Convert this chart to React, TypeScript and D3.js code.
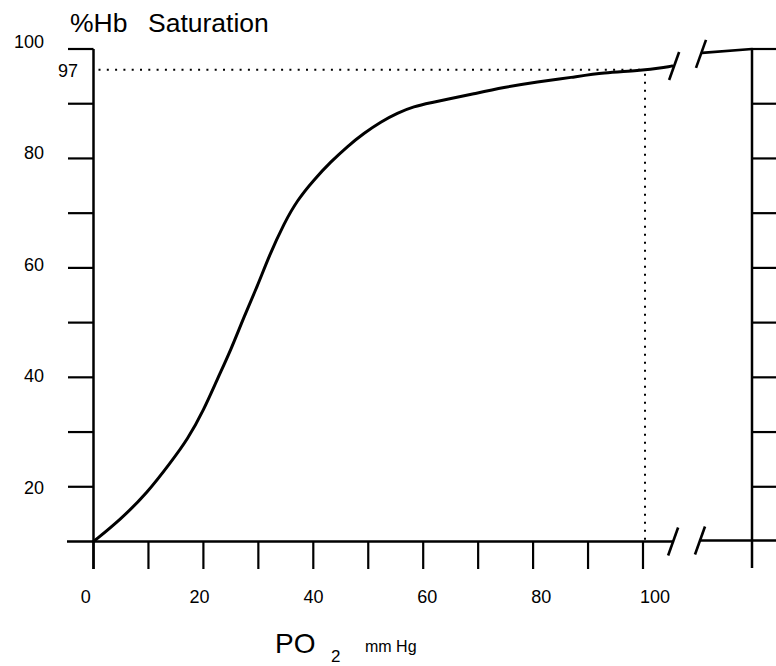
import React from "react";
import * as d3 from "d3";

// Oxygen–haemoglobin dissociation curve
const PO2 = [0, 4.9, 9.8, 14.0, 17.1, 20.1, 22.5, 25.0, 27.4, 29.8, 32.0, 34.7, 37.1, 40.1, 43.2, 46.2, 49.2, 52.3, 55.3, 58.3, 61.4, 64.4, 68.7, 74.7, 80.8, 86.9, 93.0, 99.0, 104.5, 105.3];
const SAT = [10, 14.0, 18.9, 24.4, 28.6, 34.1, 39.6, 45.0, 51.1, 56.6, 62.3, 68.2, 72.4, 76.1, 79.4, 82.2, 84.6, 86.7, 88.3, 89.5, 90.2, 90.8, 91.7, 93.0, 94.0, 94.8, 95.7, 96.0, 96.7, 96.9];

// segment beyond the axis break
const AFTER_PO2 = [110, 150];
const AFTER_SAT = [99.3, 100];

const X_TICKS = [0, 10, 20, 30, 40, 50, 60, 70, 80, 90, 100];
const X_LABELS = [0, 20, 40, 60, 80, 100];
const Y_TICKS = [20, 30, 40, 50, 60, 70, 80, 90, 100];
const Y_LABELS = [20, 40, 60, 80, 100];

const REF_PO2 = 100;
const REF_SAT = 96.2;
const REF_LABEL = "97";
const BREAK_PO2 = 105.3;

const TITLE_A = "%Hb";
const TITLE_B = "Saturation";
const XLABEL = "PO";
const XSUB = "2";
const XUNIT = "mm Hg";

const FONT = "'Liberation Sans', Arial, Helvetica, sans-serif";

export default function App() {
  const W = 776;
  const H = 666;
  const x = d3.scaleLinear().domain([0, 100]).range([93.5, 643]);
  const y = d3.scaleLinear().domain([10, 100]).range([541.5, 49]);
  const x2 = d3.scaleLinear().domain([110, 150]).range([702, 752]);
  const xLab = d3.scaleLinear().domain([0, 100]).range([85.8, 655]);
  const yLab = d3.scaleLinear().domain([20, 100]).range([493.5, 47.5]);

  const pts: [number, number][] = PO2.map((p, i) => [p, SAT[i]]);
  const line = d3
    .line<[number, number]>()
    .x((d) => x(d[0]))
    .y((d) => y(d[1]))
    .curve(d3.curveBasis);
  const after: [number, number][] = AFTER_PO2.map((p, i) => [p, AFTER_SAT[i]]);
  const line2 = d3
    .line<[number, number]>()
    .x((d) => x2(d[0]))
    .y((d) => y(d[1]));

  const x0 = x(0);
  const yBase = y(10);
  const tickBottom = yBase + 27.5;
  const rightAxisX = x2(150);
  const bx1 = x(BREAK_PO2) + 1;
  const bx2 = x2(110) - 2;
  const slash = (cx: number, cy: number) =>
    `M${cx - 5},${cy + 14}L${cx + 5},${cy - 14}`;

  return (
    <svg
      width={W}
      height={H}
      viewBox={`0 0 ${W} ${H}`}
      style={{ position: "absolute", left: 0, top: 0, display: "block", background: "#fff" }}
    >
      <rect x={0} y={0} width={W} height={H} fill="#fff" />
      {/* title */}
      <text x={70} y={32} fontFamily={FONT} fontSize={26.5} fill="#000">{TITLE_A}</text>
      <text x={148} y={32} fontFamily={FONT} fontSize={26.5} fill="#000">{TITLE_B}</text>

      {/* dotted reference lines */}
      <line
        x1={x0 + 5}
        x2={x(REF_PO2) + 2}
        y1={y(REF_SAT)}
        y2={y(REF_SAT)}
        stroke="#000"
        strokeWidth={2}
        strokeDasharray="2 6.3"
      />
      <line
        x1={x(REF_PO2) + 2}
        x2={x(REF_PO2) + 2}
        y1={y(REF_SAT) + 4}
        y2={yBase}
        stroke="#000"
        strokeWidth={2}
        strokeDasharray="2 6"
      />

      {/* y axis */}
      <line x1={x0} x2={x0} y1={y(100)} y2={tickBottom} stroke="#000" strokeWidth={2.5} />
      {Y_TICKS.map((v) => (
        <line key={"yt" + v} x1={68} x2={x0} y1={y(v)} y2={y(v)} stroke="#000" strokeWidth={2.2} />
      ))}
      {Y_LABELS.map((v) => (
        <text key={"yl" + v} x={44} y={yLab(v)} textAnchor="end" fontFamily={FONT} fontSize={18} fill="#000">
          {v}
        </text>
      ))}
      <text x={78} y={y(REF_SAT) + 7} textAnchor="end" fontFamily={FONT} fontSize={18} fill="#000">
        {REF_LABEL}
      </text>

      {/* x axis */}
      <line x1={67} x2={bx1} y1={yBase} y2={yBase} stroke="#000" strokeWidth={2.5} />
      <line x1={bx2} x2={W} y1={yBase - 1} y2={yBase - 1} stroke="#000" strokeWidth={2.5} />
      {X_TICKS.map((v) => (
        <line key={"xt" + v} x1={x(v)} x2={x(v)} y1={yBase} y2={tickBottom} stroke="#000" strokeWidth={2.2} />
      ))}
      {X_LABELS.map((v) => (
        <text key={"xl" + v} x={xLab(v)} y={603} textAnchor="middle" fontFamily={FONT} fontSize={18} fill="#000">
          {v}
        </text>
      ))}

      {/* right axis after the break */}
      <line x1={rightAxisX} x2={rightAxisX} y1={y(100) - 1} y2={tickBottom - 1} stroke="#000" strokeWidth={2.5} />
      {Y_TICKS.map((v) => (
        <line key={"rt" + v} x1={rightAxisX} x2={W} y1={y(v)} y2={y(v)} stroke="#000" strokeWidth={2.2} />
      ))}

      {/* curve */}
      <path d={line(pts) || ""} fill="none" stroke="#000" strokeWidth={3} strokeLinecap="round" strokeLinejoin="round" />
      <path d={line2(after) || ""} fill="none" stroke="#000" strokeWidth={2.6} strokeLinecap="round" />

      {/* break marks */}
      <path d={slash(bx1 + 1, y(96.9))} stroke="#000" strokeWidth={2.6} fill="none" />
      <path d={slash(bx2 + 1, y(99.1))} stroke="#000" strokeWidth={2.6} fill="none" />
      <path d={slash(bx1, yBase)} stroke="#000" strokeWidth={2.6} fill="none" />
      <path d={slash(bx2, yBase - 1)} stroke="#000" strokeWidth={2.6} fill="none" />

      {/* x axis title */}
      <text x={275} y={653} fontFamily={FONT} fontSize={28} fill="#000">{XLABEL}</text>
      <text x={331} y={662} fontFamily={FONT} fontSize={17} fill="#000">{XSUB}</text>
      <text x={365} y={652} fontFamily={FONT} fontSize={16} fill="#000">{XUNIT}</text>
    </svg>
  );
}
